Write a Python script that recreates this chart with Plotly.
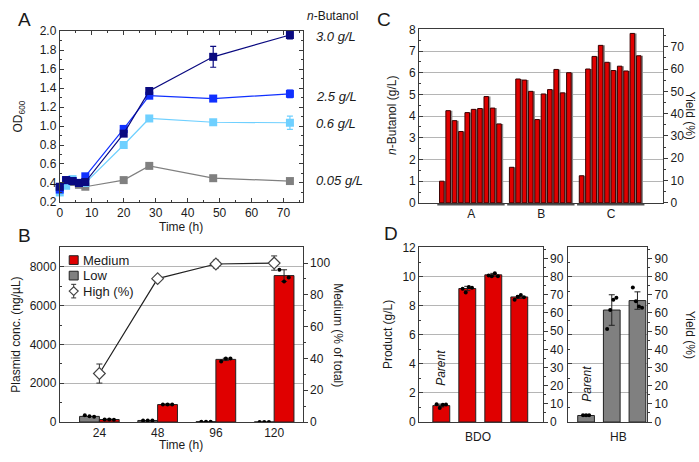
import numpy as np
import plotly.graph_objects as go

W, H = 699, 462
def px(x): return x / W
def py(y): return 1 - y / H

# ---------------- Data ----------------
# Panel A
time_h = [0, 2, 4, 6, 8, 20, 28, 48, 72]
od_30 = [0.36, 0.43, 0.42, 0.40, 0.41, 0.92, 1.37, 1.73, 1.96]
od_30_err = [0, 0, 0, 0, 0, 0.02, 0.02, 0.11, 0.04]
od_25 = [0.33, 0.43, 0.42, 0.40, 0.47, 0.97, 1.32, 1.29, 1.34]
od_25_err = [0, 0, 0, 0, 0, 0.02, 0.01, 0.02, 0.04]
od_06 = [0.30, 0.37, 0.44, 0.40, 0.40, 0.80, 1.08, 1.04, 1.035]
od_06_err = [0, 0, 0, 0, 0, 0, 0, 0, 0.07]
od_005 = [0.35, 0.41, 0.41, 0.38, 0.36, 0.43, 0.58, 0.45, 0.42]
conc_labels = ["3.0 g/L", "2.5 g/L", "0.6 g/L", "0.05 g/L"]

# Panel B
b_times = ["24", "48", "96", "120"]
b_series = ["Medium", "Low", "High (%)"]
low_conc = [290, 80, 20, 5]
low_reps = [[350, 300, 270], [80, 80, 80], [15, 15, 15], [5, 5, 5]]
med_conc = [130, 900, 3230, 7550]
med_err = [20, 30, 60, 300]
med_reps = [[130, 130, 120], [900, 900, 900], [3120, 3280, 3280], [7850, 7250, 7450]]
high_pct = [30.5, 90.2, 99.4, 100.0]
high_err = [6.0, 1.5, 2.5, 4.5]

# Panel C
c_groups = ["A", "B", "C"]
c_A = [1.0, 4.25, 3.79, 3.29, 4.16, 4.31, 4.35, 4.90, 4.37, 3.64]
c_B = [1.64, 5.71, 5.66, 5.14, 3.84, 5.02, 5.22, 6.15, 5.07, 6.00]
c_C = [1.25, 6.17, 6.75, 7.26, 6.48, 6.10, 6.30, 6.08, 7.81, 6.78]

# Panel D
bdo_vals = [1.13, 9.18, 10.12, 8.60]
bdo_err = [0.1, 0.15, 0.1, 0.1]
bdo_reps = [[1.22, 0.96, 1.18, 1.20], [9.16, 8.91, 9.29, 9.24],
            [10.07, 10.02, 10.22, 10.02], [8.40, 8.62, 8.73, 8.58]]
hb_vals = [0.45, 7.70, 8.35]
hb_err = [0.05, 1.05, 0.60]
hb_reps = [[0.47, 0.47, 0.47], [6.40, 7.70, 8.40, 8.55], [9.25, 8.30, 7.95, 7.85]]

# ---------------- Styles ----------------
FONT = "Liberation Sans, Arial, sans-serif"
AX = "#3a3a3a"
GRID = "#b5b5b5"
RED = "#e00000"
GRAY = "#808080"
NAVY = "#0a0a80"
BLUE = "#1030ff"
LBLUE = "#6fd0ff"
GRAYL = "#808080"
TF = dict(family=FONT, size=12, color="#1a1a1a")

fig = go.Figure()

# ---------------- Panel A ----------------
for ys, err, col in [(od_005, None, GRAYL), (od_06, od_06_err, LBLUE),
                     (od_25, od_25_err, BLUE), (od_30, od_30_err, NAVY)]:
    fig.add_trace(go.Scatter(
        x=time_h, y=ys, mode="lines+markers", xaxis="x", yaxis="y", cliponaxis=False,
        line=dict(color=col, width=1.2),
        marker=dict(symbol="square", size=8, color=col),
        error_y=dict(type="data", array=err, color=col, thickness=1.2, width=3, visible=err is not None),
        showlegend=False, hoverinfo="skip"))

# ---------------- Panel B ----------------
bx = np.arange(len(b_times))
half = 0.17
fig.add_trace(go.Bar(x=bx - half, y=low_conc, width=0.34, xaxis="x2", yaxis="y2",
                     marker=dict(color=GRAY, line=dict(color="#222", width=1)),
                     name=b_series[1], showlegend=False, hoverinfo="skip"))
fig.add_trace(go.Bar(x=bx + half, y=med_conc, width=0.34, xaxis="x2", yaxis="y2",
                     marker=dict(color=RED, line=dict(color="#222", width=1)),
                     error_y=dict(type="data", array=med_err, color="#222", thickness=1, width=3),
                     name=b_series[0], showlegend=False, hoverinfo="skip"))
off3 = np.array([-0.08, 0.0, 0.08])
dx, dy = [], []
for i in range(len(b_times)):
    for j, v in enumerate(low_reps[i]):
        dx.append(bx[i] - half + off3[j]); dy.append(v)
    for j, v in enumerate(med_reps[i]):
        dx.append(bx[i] + half + off3[j]); dy.append(v)
fig.add_trace(go.Scatter(x=dx, y=dy, mode="markers", xaxis="x2", yaxis="y2",
                         marker=dict(color="black", size=4), showlegend=False, hoverinfo="skip"))
fig.add_trace(go.Scatter(x=bx, y=high_pct, mode="lines+markers", xaxis="x2", yaxis="y3",
                         line=dict(color="#222", width=1.2),
                         marker=dict(symbol="diamond", size=9, color="white", line=dict(color="#444", width=1.2)),
                         error_y=dict(type="data", array=high_err, color="#333", thickness=1, width=3),
                         name=b_series[2], showlegend=False, hoverinfo="skip"))

# ---------------- Panel C ----------------
gap = 2
cx, cy = [], []
centers = []
starts = []
start = 0
for vals in [c_A, c_B, c_C]:
    xs = list(range(start, start + len(vals)))
    cx += xs; cy += vals
    centers.append((xs[0] + xs[-1]) / 2)
    starts.append((xs[0], xs[-1]))
    start = xs[-1] + gap
fig.add_trace(go.Bar(x=cx, y=cy, width=0.72, offset=-0.2, xaxis="x3", yaxis="y4",
                     marker=dict(color="#8a8a8a", line=dict(width=0)),
                     showlegend=False, hoverinfo="skip"))
fig.add_trace(go.Bar(x=cx, y=cy, width=0.72, offset=-0.5, xaxis="x3", yaxis="y4",
                     marker=dict(color=RED, line=dict(color="#3a0000", width=1)),
                     showlegend=False, hoverinfo="skip"))
fig.add_trace(go.Scatter(x=[None], y=[None], xaxis="x3", yaxis="y5", showlegend=False, hoverinfo="skip"))

# ---------------- Panel D ----------------
off4 = np.array([-0.18, -0.06, 0.06, 0.18])
dbx = np.arange(len(bdo_vals))
fig.add_trace(go.Bar(x=dbx, y=bdo_vals, width=0.65, xaxis="x4", yaxis="y6",
                     marker=dict(color=RED, line=dict(color="#222", width=1)),
                     error_y=dict(type="data", array=bdo_err, color="#222", thickness=1, width=3),
                     showlegend=False, hoverinfo="skip"))
ddx, ddy = [], []
for i, reps in enumerate(bdo_reps):
    o = off4 if len(reps) == 4 else off3
    for j, v in enumerate(reps):
        ddx.append(dbx[i] + o[j]); ddy.append(v)
fig.add_trace(go.Scatter(x=ddx, y=ddy, mode="markers", xaxis="x4", yaxis="y6",
                         marker=dict(color="black", size=4), showlegend=False, hoverinfo="skip"))
fig.add_trace(go.Scatter(x=[None], y=[None], xaxis="x4", yaxis="y7", showlegend=False, hoverinfo="skip"))

hbx = np.arange(len(hb_vals))
fig.add_trace(go.Bar(x=hbx, y=hb_vals, width=0.65, xaxis="x5", yaxis="y8",
                     marker=dict(color=GRAY, line=dict(color="#222", width=1)),
                     error_y=dict(type="data", array=hb_err, color="#222", thickness=1, width=3),
                     showlegend=False, hoverinfo="skip"))
hdx, hdy = [], []
for i, reps in enumerate(hb_reps):
    o = off4 if len(reps) == 4 else off3 * 1.5
    for j, v in enumerate(reps):
        hdx.append(hbx[i] + o[j]); hdy.append(v)
fig.add_trace(go.Scatter(x=hdx, y=hdy, mode="markers", xaxis="x5", yaxis="y8",
                         marker=dict(color="black", size=4), showlegend=False, hoverinfo="skip"))
fig.add_trace(go.Scatter(x=[None], y=[None], xaxis="x5", yaxis="y9", showlegend=False, hoverinfo="skip"))

# ---------------- Axes ----------------
def frame(**kw):
    d = dict(showline=True, linecolor=AX, linewidth=1, zeroline=False, showgrid=False,
             tickfont=TF, ticks="inside", ticklen=4, tickcolor=AX)
    d.update(kw)
    return d

dA = [px(57), px(301)]
dB_y = [py(428), py(248)]
dC_x = [px(418), px(663)]
dD1 = [px(418), px(542)]
dD2 = [px(567), px(647)]

fig.update_layout(
    xaxis=frame(domain=dA, anchor="y", range=[0, 76], dtick=10, mirror="ticks",
                minor=dict(ticks="inside", ticklen=2, dtick=5, tickcolor=AX)),
    yaxis=frame(domain=[py(201), py(25)], anchor="x", range=[0.2, 2.0], dtick=0.2, tickformat=".1f",
                mirror="ticks", minor=dict(ticks="inside", ticklen=2, dtick=0.1, tickcolor=AX)),
    xaxis2=frame(domain=dA, anchor="y2", range=[-0.68, 3.49], tickvals=list(bx), ticktext=b_times,
                 ticks="", mirror=True),
    yaxis2=frame(domain=dB_y, anchor="x2", range=[0, 9000], tickvals=[0, 2000, 4000, 6000, 8000],
                 showgrid=True, gridcolor=GRID, gridwidth=1,
                 minor=dict(ticks="inside", ticklen=2, dtick=1000, tickcolor=AX)),
    yaxis3=frame(overlaying="y2", anchor="x2", side="right", range=[0, 109.8], dtick=20, ticks="outside",
                 minor=dict(ticks="outside", ticklen=2, dtick=10, tickcolor=AX)),
    xaxis3=frame(domain=dC_x, anchor="y4", range=[-3.7, 34.7], tickvals=centers, ticktext=c_groups,
                 ticks="", mirror=True),
    yaxis4=frame(domain=[py(202), py(23)], anchor="x3", range=[0, 8], dtick=1, showgrid=True,
                 gridcolor=GRID, minor=dict(ticks="inside", ticklen=2, dtick=0.5, tickcolor=AX)),
    yaxis5=frame(overlaying="y4", anchor="x3", side="right", range=[0, 77.8], dtick=10, ticks="outside",
                 minor=dict(ticks="outside", ticklen=2, dtick=5, tickcolor=AX)),
    xaxis4=frame(domain=dD1, anchor="y6", range=[-0.85, 3.9], showticklabels=False, ticks="", mirror=True),
    yaxis6=frame(domain=dB_y, anchor="x4", range=[0, 12], dtick=2, showgrid=True, gridcolor=GRID,
                 minor=dict(ticks="inside", ticklen=2, dtick=1, tickcolor=AX)),
    yaxis7=frame(overlaying="y6", anchor="x4", side="right", range=[0, 96], dtick=10, ticks="outside",
                 minor=dict(ticks="outside", ticklen=2, dtick=5, tickcolor=AX)),
    xaxis5=frame(domain=dD2, anchor="y8", range=[-0.72, 2.38], showticklabels=False, ticks="", mirror=True),
    yaxis8=frame(domain=dB_y, anchor="x5", range=[0, 12], dtick=2, showgrid=True, gridcolor=GRID,
                 showticklabels=False, minor=dict(ticks="inside", ticklen=2, dtick=1, tickcolor=AX)),
    yaxis9=frame(overlaying="y8", anchor="x5", side="right", range=[0, 96], dtick=10, ticks="outside",
                 minor=dict(ticks="outside", ticklen=2, dtick=5, tickcolor=AX)),
)

fig.update_layout(
    width=W, height=H, margin=dict(l=0, r=0, t=0, b=0),
    paper_bgcolor="white", plot_bgcolor="white", showlegend=False,
    barmode="overlay", font=dict(family=FONT, size=12, color="#1a1a1a"),
)

# group underlines for panel C
for s, e in starts:
    fig.add_shape(type="line", xref="x3", yref="paper", x0=s - 0.85, x1=e + 0.75,
                  y0=py(204), y1=py(204), line=dict(color="#505050", width=1.5))

# Key for panel B (legend box drawn in paper space)
key_x, key_y0, key_dy = 71, 261, 16
for k, (name, col) in enumerate(zip(b_series[:2], [RED, GRAY])):
    yy = key_y0 + k * key_dy
    fig.add_shape(type="rect", xref="paper", yref="paper",
                  x0=px(key_x - 4.5), x1=px(key_x + 4.5), y0=py(yy + 4.5), y1=py(yy - 4.5),
                  fillcolor=col, line=dict(color="#222", width=1))
yy = key_y0 + 2 * key_dy
fig.add_shape(type="line", xref="paper", yref="paper", x0=px(key_x), x1=px(key_x),
              y0=py(yy + 7), y1=py(yy - 7), line=dict(color="#333", width=1))
for e in (-7, 7):
    fig.add_shape(type="line", xref="paper", yref="paper", x0=px(key_x - 2.5), x1=px(key_x + 2.5),
                  y0=py(yy + e), y1=py(yy + e), line=dict(color="#333", width=1))
fig.add_shape(type="path", xref="paper", yref="paper",
              path=f"M {px(key_x - 4.5)} {py(yy)} L {px(key_x)} {py(yy - 4.5)} L {px(key_x + 4.5)} {py(yy)} L {px(key_x)} {py(yy + 4.5)} Z",
              fillcolor="white", line=dict(color="#444", width=1.2))

ann = []
def A(x, y, text, size=12, angle=0, xanchor="center", italic=False, color="#1a1a1a"):
    if italic:
        text = "<i>" + text + "</i>"
    ann.append(dict(x=px(x), y=py(y), xref="paper", yref="paper", text=text, showarrow=False,
                    textangle=angle, xanchor=xanchor, yanchor="middle",
                    font=dict(family=FONT, size=size, color=color)))

for k, name in enumerate(b_series):
    A(key_x + 7, key_y0 + k * key_dy, name, size=13, xanchor="left")

# panel letters
A(22, 13, "A", size=19); A(22, 236, "B", size=19); A(383, 13, "C", size=19); A(390, 234, "D", size=19)
# Panel A texts
A(16, 113, "OD<sub>600</sub>", angle=-90)
A(179, 227, "Time (h)")
A(303, 9, "<i>n</i>-Butanol", xanchor="left")
for lab, yy in zip(conc_labels, [30, 92, 120, 179]):
    A(312, yy, lab, italic=True, xanchor="left", size=13)
# Panel B texts
A(179, 452, "Time (h)")
A(13, 338, "Plasmid conc. (ng/µL)", angle=-90)
A(337, 338, "Medium (% of total)", angle=90)
# Panel C texts
A(390, 112, "<i>n</i>-Butanol (g/L)", angle=-90)
A(690, 112, "Yield (%)", angle=90)
# Panel D texts
A(386, 338, "Product (g/L)", angle=-90)
A(690, 338, "Yield (%)", angle=90)
A(477, 443, "BDO"); A(618, 443, "HB")
A(440, 372, "Parent", angle=-90, italic=True)
A(587, 388, "Parent", angle=-90, italic=True)

fig.update_layout(annotations=ann)
fig.write_html("out.html", config={"displayModeBar": False},
               post_script="document.body.style.margin='0px';document.body.style.overflow='hidden';")
